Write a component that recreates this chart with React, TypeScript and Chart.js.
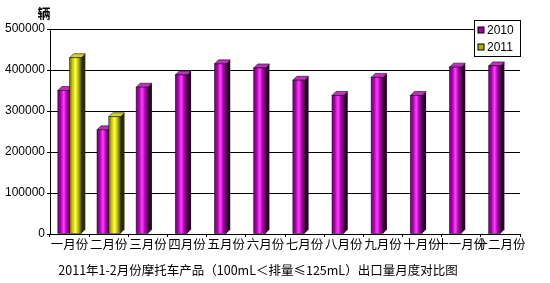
import React, { useEffect, useRef } from 'react';
import { Chart, registerables } from 'chart.js';

Chart.register(...registerables);

const categories = ['一月份', '二月份', '三月份', '四月份', '五月份', '六月份', '七月份', '八月份', '九月份', '十月份', '十一月份', '十二月份'];
const series2010 = [350000, 254000, 358000, 388000, 415000, 405000, 375000, 338000, 382000, 338000, 407000, 410000];
const series2011 = [430000, 286000, null, null, null, null, null, null, null, null, null, null];
const seriesNames = ['2010', '2011'];
const yMin = 0;
const yMax = 500000;
const yStep = 100000;
const yUnit = '辆';
const chartTitle = '2011年1-2月份摩托车产品（100mL＜排量≤125mL）出口量月度对比图';

const CJK = '"Noto Sans CJK SC", "Noto Sans", sans-serif';

const palettes = [
  { stops: ['#700070', '#b000b8', '#ff40ff', '#b000b0', '#500050'], top: '#c030c0', side: '#2a002a', legend: '#a000a0' },
  { stops: ['#6e6e00', '#c8c800', '#ffff50', '#b8b800', '#505000'], top: '#d0d030', side: '#2a2a00', legend: '#b0b000' },
];

const depth = 4;

const bars3d = {
  id: 'bars3d',
  afterDatasetsDraw(chart: any) {
    const ctx = chart.ctx;
    ctx.save();
    chart.data.datasets.forEach((ds: any, di: number) => {
      const meta = chart.getDatasetMeta(di);
      const pal = palettes[di];
      meta.data.forEach((el: any, i: number) => {
        if (ds.data[i] == null) return;
        const w = el.width;
        const left = el.x - w / 2;
        const right = el.x + w / 2;
        const top = el.y;
        const base = el.base;
        ctx.fillStyle = pal.side;
        ctx.beginPath();
        ctx.moveTo(right, top);
        ctx.lineTo(right + depth, top - depth);
        ctx.lineTo(right + depth, base - depth);
        ctx.lineTo(right, base);
        ctx.closePath();
        ctx.fill();
        ctx.fillStyle = pal.top;
        ctx.beginPath();
        ctx.moveTo(left, top);
        ctx.lineTo(left + depth, top - depth);
        ctx.lineTo(right + depth, top - depth);
        ctx.lineTo(right, top);
        ctx.closePath();
        ctx.fill();
        ctx.strokeStyle = 'rgba(0,0,0,0.7)';
        ctx.lineWidth = 0.8;
        ctx.stroke();
        const g = ctx.createLinearGradient(left, 0, right, 0);
        const n = pal.stops.length;
        pal.stops.forEach((c: string, k: number) => g.addColorStop(k / (n - 1), c));
        ctx.fillStyle = g;
        ctx.fillRect(left, top, w, base - top);
        ctx.strokeStyle = 'rgba(0,0,0,0.6)';
        ctx.lineWidth = 0.8;
        ctx.strokeRect(left, top, w, base - top);
      });
    });
    ctx.restore();
  },
  afterDraw(chart: any) {
    const ctx = chart.ctx;
    ctx.save();
    ctx.fillStyle = '#000';
    ctx.font = `bold 13px ${CJK}`;
    ctx.textAlign = 'center';
    ctx.textBaseline = 'middle';
    ctx.fillText(yUnit, 44, 13);
    ctx.font = `12.5px ${CJK}`;
    ctx.fillText(chartTitle, 258, 270);
    const lx = 474, ly = 20, lw = 46, lh = 36;
    ctx.fillStyle = '#fff';
    ctx.fillRect(lx, ly, lw, lh);
    ctx.strokeStyle = '#000';
    ctx.lineWidth = 1;
    ctx.strokeRect(lx + 0.5, ly + 0.5, lw, lh);
    seriesNames.forEach((name, k) => {
      const cy = ly + 10 + k * 17;
      ctx.fillStyle = palettes[k].legend;
      ctx.fillRect(lx + 4, cy - 3, 6, 6);
      ctx.strokeStyle = '#000';
      ctx.strokeRect(lx + 4, cy - 3, 6, 6);
      ctx.fillStyle = '#000';
      ctx.font = '12px "Liberation Sans", Arial, sans-serif';
      ctx.textAlign = 'left';
      ctx.fillText(name, lx + 13, cy + 1);
    });
    ctx.restore();
  },
};

export default function App() {
  const ref = useRef<HTMLCanvasElement | null>(null);
  useEffect(() => {
    if (!ref.current) return;
    const chart = new Chart(ref.current, {
      type: 'bar',
      data: {
        labels: categories,
        datasets: [
          { label: seriesNames[0], data: series2010, backgroundColor: 'rgba(0,0,0,0)', borderWidth: 0, categoryPercentage: 0.6, barPercentage: 1.0 },
          { label: seriesNames[1], data: series2011 as any, backgroundColor: 'rgba(0,0,0,0)', borderWidth: 0, categoryPercentage: 0.6, barPercentage: 1.0 },
        ],
      },
      options: {
        responsive: false,
        animation: false,
        layout: { padding: { top: 29, right: 30, left: 0, bottom: 0 } },
        plugins: { legend: { display: false }, title: { display: false }, tooltip: { enabled: false } },
        scales: {
          x: {
            afterFit(scale: any) { scale.height = 49; },
            grid: { offset: true, drawOnChartArea: false, drawTicks: true, tickLength: 3, color: '#000' },
            border: { display: true, color: '#000', width: 1 },
            ticks: { color: '#000', font: { family: CJK, size: 12.5 }, autoSkip: false, maxRotation: 0, minRotation: 0, padding: 0 },
          },
          y: {
            min: yMin,
            max: yMax,
            afterFit(scale: any) { scale.width = 50; },
            grid: { color: '#000', drawTicks: true, tickLength: 3, lineWidth: 1 },
            border: { display: true, color: '#000', width: 1 },
            ticks: {
              stepSize: yStep,
              color: '#000',
              font: { family: '"Liberation Sans", Arial, sans-serif', size: 12 },
              padding: 2,
              callback: (v: any) => String(v),
            },
          },
        },
      },
      plugins: [bars3d],
    });
    return () => chart.destroy();
  }, []);
  return (
    <div style={{ position: 'fixed', left: 0, top: 0, width: 550, height: 283, background: '#fff' }}>
      <canvas ref={ref} width={550} height={283} style={{ width: 550, height: 283 }} />
    </div>
  );
}
